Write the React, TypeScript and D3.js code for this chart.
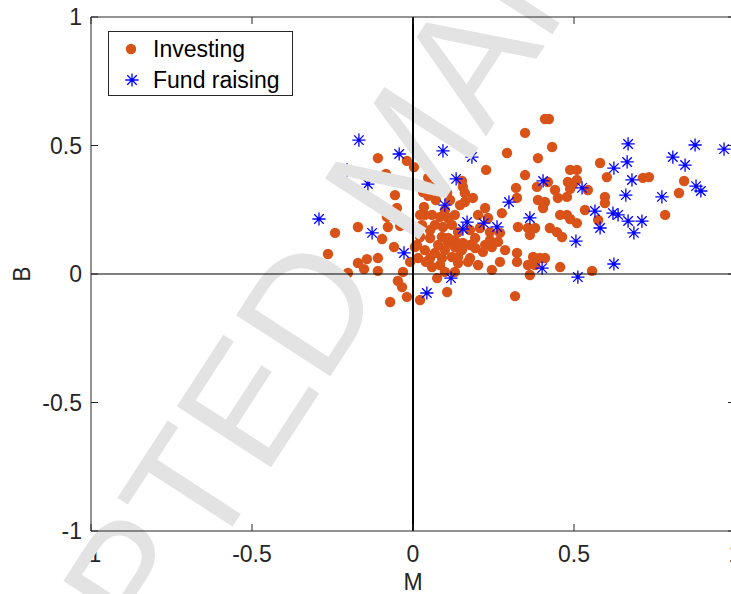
import React from 'react';
import * as d3 from 'd3';

// Investing (orange dots)
const investingM = [
  0.410, 0.422, 0.348, 0.432, 0.388, 0.292, 0.227, 0.581, -0.109, -0.084,
  -0.019, 0.003, 0.047, 0.062, 0.031, 0.047, 0.106, 0.152, 0.155, 0.161,
  0.161, 0.186, 0.071, 0.034, 0.224, 0.320, 0.323, -0.056, -0.050, 0.276,
  0.233, 0.059, 0.084, 0.109, 0.028, 0.012, 0.068, 0.093, 0.121, 0.022,
  0.053, 0.090, 0.109, 0.130, 0.193, 0.239, 0.264, 0.245, 0.012, 0.109,
  0.130, 0.155, 0.239, 0.270, 0.068, 0.053, 0.090, 0.121, 0.140, 0.177,
  0.016, 0.323, 0.323, 0.059, 0.084, 0.140, 0.171, 0.245, 0.075, 0.106,
  0.022, 0.317, -0.242, -0.264, -0.171, -0.078, -0.096, -0.040, -0.009, -0.059,
  -0.171, -0.143, -0.109, -0.152, -0.109, -0.202, -0.199, -0.031, -0.009, -0.047,
  -0.034, -0.019, -0.071, -0.081, 0.006, 0.348, 0.488, 0.509, 0.602, 0.385,
  0.419, 0.441, 0.450, 0.481, 0.497, 0.488, 0.509, 0.543, 0.478, 0.388,
  0.410, 0.404, 0.596, 0.596, 0.534, 0.575, 0.457, 0.478, 0.488, 0.509,
  0.326, 0.357, 0.379, 0.363, 0.425, 0.447, 0.463, 0.373, 0.394, 0.410,
  0.357, 0.379, 0.363, 0.457, 0.556, 0.714, 0.733, 0.842, 0.826, 0.783,
  0.140, 0.177, 0.208, 0.193, 0.217, 0.037, 0.099, 0.130, 0.078, 0.037,
  0.152, 0.099, 0.053, 0.146, 0.115, 0.202, 0.177, 0.224, 0.286, 0.270,
  0.202, 0.130, 0.022, 0.040, 0.099,
];
const investingB = [
  0.603, 0.603, 0.549, 0.494, 0.451, 0.471, 0.405, 0.432, 0.451, 0.389,
  0.440, 0.416, 0.374, 0.339, 0.319, 0.304, 0.315, 0.362, 0.339, 0.315,
  0.280, 0.296, 0.288, 0.261, 0.257, 0.335, 0.296, 0.307, 0.257, 0.237,
  0.218, 0.230, 0.222, 0.218, 0.191, 0.179, 0.191, 0.183, 0.191, 0.144,
  0.140, 0.144, 0.140, 0.132, 0.140, 0.132, 0.125, 0.105, 0.113, 0.121,
  0.105, 0.121, 0.163, 0.160, 0.082, 0.062, 0.062, 0.066, 0.066, 0.062,
  0.062, 0.082, 0.047, 0.027, 0.035, 0.043, 0.047, 0.016, -0.016, -0.070,
  -0.101, -0.086, 0.160, 0.078, 0.183, 0.183, 0.136, 0.187, 0.183, 0.105,
  0.043, 0.058, 0.062, 0.019, 0.012, 0.004, -0.062, 0.008, 0.047, -0.027,
  -0.051, -0.089, -0.109, 0.222, 0.105, 0.385, 0.405, 0.405, 0.377, 0.339,
  0.358, 0.327, 0.296, 0.358, 0.350, 0.331, 0.366, 0.327, 0.300, 0.288,
  0.280, 0.257, 0.300, 0.276, 0.249, 0.210, 0.230, 0.230, 0.214, 0.198,
  0.183, 0.179, 0.179, 0.152, 0.179, 0.163, 0.144, 0.066, 0.062, 0.062,
  0.035, 0.035, -0.004, 0.027, 0.012, 0.374, 0.377, 0.362, 0.315, 0.230,
  0.163, 0.171, 0.179, 0.101, 0.086, 0.230, 0.249, 0.230, 0.113, 0.093,
  0.093, 0.093, 0.171, 0.268, 0.288, 0.230, 0.113, 0.113, 0.093, 0.047,
  0.035, 0.008, 0.230, 0.047, 0.008,
];

// Fund raising (blue stars)
const fundM = [
  -0.168, -0.043, -0.205, -0.140, -0.292, -0.127, -0.028, 0.093, 0.183, 0.134,
  0.099, 0.298, 0.168, 0.155, 0.220, 0.261, 0.118, 0.043, 0.404, 0.624,
  0.525, 0.363, 0.565, 0.621, 0.637, 0.581, 0.506, 0.624, 0.401, 0.512,
  0.668, 0.876, 0.966, 0.807, 0.665, 0.845, 0.680, 0.879, 0.894, 0.661,
  0.773, 0.668, 0.711, 0.686,
];
const fundB = [
  0.521, 0.467, 0.405, 0.350, 0.214, 0.160, 0.082, 0.479, 0.455, 0.370,
  0.268, 0.280, 0.202, 0.175, 0.198, 0.183, -0.016, -0.074, 0.362, 0.412,
  0.335, 0.218, 0.245, 0.237, 0.230, 0.179, 0.128, 0.039, 0.023, -0.012,
  0.506, 0.502, 0.486, 0.455, 0.436, 0.424, 0.366, 0.342, 0.323, 0.307,
  0.300, 0.206, 0.206, 0.160,
];

const tickValues = [-1, -0.5, 0, 0.5, 1];
const tickLabels = ['-1', '-0.5', '0', '0.5', '1'];
const legendLabels = ['Investing', 'Fund raising'];
const xLabel = 'M';
const yLabel = 'B';
const watermarkText = 'ACCEPTED MANUSCRIPT';

const ORANGE = '#D95319';
const BLUE = '#0000FF';
const AXIS = '#262626';
const FONT = '"Liberation Sans", Arial, Helvetica, sans-serif';

function starPath(r: number) {
  const d = r * 0.72;
  return `M${-r},0H${r}M0,${-r}V${r}M${-d},${-d}L${d},${d}M${-d},${d}L${d},${-d}`;
}

export default function App() {
  const W = 731;
  const H = 594;
  const x = d3.scaleLinear().domain([-1, 1]).range([91, 735]);
  const y = d3.scaleLinear().domain([-1, 1]).range([531, 17]);
  const [x0, x1] = x.range();
  const [yb, yt] = y.range();
  const tickLen = 7;
  const fs = 23;

  const investing = investingM.map((m, i) => ({ m, b: investingB[i] }));
  const fund = fundM.map((m, i) => ({ m, b: fundB[i] }));
  const star = starPath(6.6);

  return (
    <svg
      width={W}
      height={H}
      viewBox={`0 0 ${W} ${H}`}
      style={{ position: 'absolute', left: 0, top: 0, background: '#fff' }}
      fontFamily={FONT}
    >
      <rect x={0} y={0} width={W} height={H} fill="#fff" />
      {/* tick labels */}
      {tickValues.map((v, i) => (
        <text key={'xl' + i} x={x(v)} y={y(-1) + 31} fontSize={fs} fill={AXIS} textAnchor="middle">
          {tickLabels[i]}
        </text>
      ))}
      {tickValues.map((v, i) => (
        <text key={'yl' + i} x={x0 - 9} y={y(v) + 8} fontSize={fs} fill={AXIS} textAnchor="end">
          {tickLabels[i]}
        </text>
      ))}
      <text x={x(0)} y={590} fontSize={fs} fill={AXIS} textAnchor="middle">{xLabel}</text>
      <text transform={`translate(30,${y(0)}) rotate(-90)`} fontSize={fs} fill={AXIS} textAnchor="middle">{yLabel}</text>

      {/* data */}
      <g>
        {investing.map((d, i) => (
          <circle key={'o' + i} cx={x(d.m)} cy={y(d.b)} r={5.2} fill={ORANGE} />
        ))}
      </g>
      <g>
        {fund.map((d, i) => (
          <path key={'s' + i} d={star} transform={`translate(${x(d.m)},${y(d.b)})`} stroke={BLUE} strokeWidth={1.3} fill="none" />
        ))}
      </g>

      {/* watermark */}
      <text
        transform={`translate(402,158) rotate(-57)`}
        fontSize={163}
        fill="#e3e3e3"
        textAnchor="middle"
        dy="0.36em"
      >
        {watermarkText}
      </text>

      {/* zero lines */}
      <line x1={x0} x2={x1} y1={y(0)} y2={y(0)} stroke="#000" strokeWidth={1.2} />
      <line x1={x(0)} x2={x(0)} y1={yt} y2={yb} stroke="#000" strokeWidth={2} />

      {/* axes box */}
      <g stroke={AXIS} strokeWidth={1} fill="none">
        <line x1={x0} x2={x1} y1={yb} y2={yb} />
        <line x1={x0} x2={x1} y1={yt} y2={yt} />
        <line x1={x0} x2={x0} y1={yt} y2={yb} />
        <line x1={x1} x2={x1} y1={yt} y2={yb} />
        {tickValues.map((v, i) => (
          <g key={'t' + i}>
            <line x1={x(v)} x2={x(v)} y1={yb} y2={yb - tickLen} />
            <line x1={x(v)} x2={x(v)} y1={yt} y2={yt + tickLen} />
            <line x1={x0} x2={x0 + tickLen} y1={y(v)} y2={y(v)} />
            <line x1={x1} x2={x1 - tickLen} y1={y(v)} y2={y(v)} />
          </g>
        ))}
      </g>

      {/* legend */}
      <g>
        <rect x={108.5} y={31.5} width={184} height={64} fill="#fff" stroke={AXIS} strokeWidth={1} />
        <circle cx={131} cy={49} r={5.2} fill={ORANGE} />
        <text x={153} y={57} fontSize={fs} fill="#000">{legendLabels[0]}</text>
        <path d={star} transform="translate(132,80)" stroke={BLUE} strokeWidth={1.3} fill="none" />
        <text x={153} y={88} fontSize={fs} fill="#000">{legendLabels[1]}</text>
      </g>
    </svg>
  );
}
